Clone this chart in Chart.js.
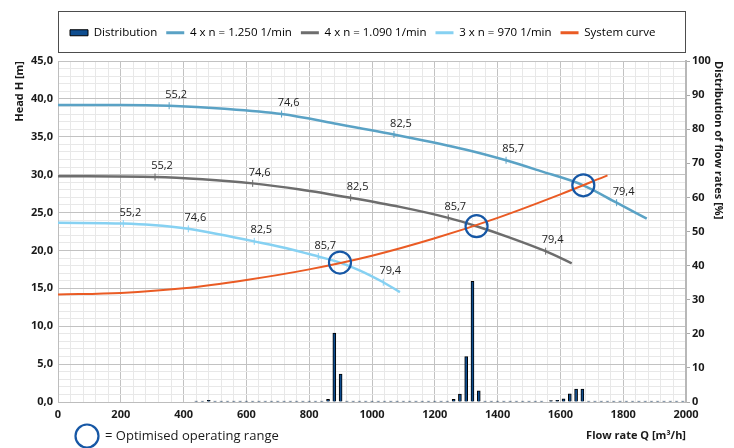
<!DOCTYPE html>
<html>
<head>
<meta charset="utf-8">
<title>Pump curves</title>
<script src="https://cdn.jsdelivr.net/npm/chart.js@4.4.1/dist/chart.umd.min.js"></script>
<style>
  html, body { margin: 0; padding: 0; background: #fff; }
  #wrap { width: 734px; height: 448px; }
</style>
</head>
<body>
<div id="wrap"><canvas id="pumpChart" width="734" height="448"></canvas></div>
<script>
// flow rate distribution (right axis, %)
var distFlow = [
    440, 460, 480, 500, 520, 540, 560, 580, 600, 620,
    640, 660, 680, 700, 720, 740, 760, 780, 800, 820,
    840, 860, 880, 900, 920, 940, 960, 980, 1000, 1020,
    1040, 1060, 1080, 1100, 1120, 1140, 1160, 1180, 1200, 1220,
    1240, 1260, 1280, 1300, 1320, 1340, 1360, 1380, 1400, 1420,
    1440, 1460, 1480, 1500, 1520, 1540, 1570, 1590, 1610, 1630,
    1650, 1670, 1690, 1710, 1730, 1750, 1770, 1790, 1810, 1830,
    1850, 1870, 1890, 1910, 1930, 1950, 1970, 1990
];
var distShare = [
    0.3, 0.3, 0.5, 0.3, 0.3, 0.3, 0.3, 0.3, 0.3, 0.3,
    0.3, 0.3, 0.3, 0.3, 0.3, 0.3, 0.3, 0.3, 0.3, 0.3,
    0.3, 0.8, 20.2, 8.2, 0.3, 0.3, 0.3, 0.3, 0.3, 0.3,
    0.3, 0.3, 0.3, 0.3, 0.3, 0.3, 0.3, 0.3, 0.3, 0.3,
    0.3, 0.8, 2.3, 13.3, 35.4, 3.3, 0.3, 0.3, 0.3, 0.3,
    0.3, 0.3, 0.3, 0.3, 0.3, 0.3, 0.4, 0.5, 0.9, 2.4,
    3.8, 3.8, 0.3, 0.3, 0.3, 0.3, 0.3, 0.3, 0.3, 0.3,
    0.3, 0.3, 0.3, 0.3, 0.3, 0.3, 0.3, 0.3
];

// pump curves (left axis, head in m)
var flow1250 = [0, 200, 354, 530, 712, 890, 1070, 1300, 1427, 1535, 1673, 1779, 1875];
var head1250 = [39.2, 39.2, 39.1, 38.7, 38.0, 36.7, 35.3, 33.3, 31.9, 30.5, 28.6, 26.3, 24.2];

var flow1090 = [0, 309, 460, 620, 771, 932, 1089, 1243, 1333, 1439, 1553, 1636];
var head1090 = [29.8, 29.7, 29.4, 28.85, 28.05, 26.95, 25.75, 24.3, 23.2, 21.7, 19.9, 18.3];

var flow970 = [0, 208, 300, 415, 516, 625, 728, 829, 898, 962, 1036, 1089];
var head970 = [23.65, 23.55, 23.35, 22.85, 22.1, 21.2, 20.3, 19.2, 18.4, 17.35, 15.8, 14.5];

var systemFlow = [0, 200, 400, 600, 800, 1000, 1200, 1400, 1600, 1750];
var systemHead = [14.2, 14.4, 15.0, 16.1, 17.5, 19.3, 21.6, 24.3, 27.4, 29.9];

// efficiency marks on the curves
var effLabels = ['55,2', '74,6', '82,5', '85,7', '79,4'];
var effFlow1250 = [354, 712, 1070, 1427, 1779];
var effHead1250 = [39.1, 38.0, 35.3, 31.9, 26.3];
var effFlow1090 = [309, 620, 932, 1243, 1553];
var effHead1090 = [29.7, 28.85, 26.95, 24.3, 19.9];
var effFlow970 = [208, 415, 625, 829, 1036];
var effHead970 = [23.55, 22.85, 21.2, 19.2, 15.8];

// optimised operating points
var opFlow = [898, 1333, 1673];
var opHead = [18.4, 23.2, 28.6];

var corBarra = '#0e4d8f';
var cor1250 = '#5aa2c5';
var cor1090 = '#6d6d6d';
var cor970 = '#86d1f2';
var corSistema = '#ea5b24';
var corCirculo = '#1657a5';

Chart.defaults.font.family = "'Open Sans', 'Noto Sans', sans-serif";
Chart.defaults.color = '#1a1a1a';

function pontos(xs, ys)
{
    return xs.map(function (x, i) { return { x: x, y: ys[i] }; });
}

function corGrade(ctx, passo)
{
    return ctx.tick && ctx.tick.value % passo === 0 ? '#c2c2c2' : '#e8e8e8';
}

var rotulosCurvas = {
    id: 'rotulosCurvas',
    afterDatasetsDraw: function (chart) {
        var ctx = chart.ctx;
        ctx.save();
        ctx.font = "11px 'Open Sans', sans-serif";
        ctx.fillStyle = '#222';
        ctx.textAlign = 'center';
        ctx.textBaseline = 'middle';
        chart.data.datasets.forEach(function (ds, i) {
            if (!ds.pointLabels) return;
            chart.getDatasetMeta(i).data.forEach(function (pt, j) {
                ctx.fillText(ds.pointLabels[j], pt.x + 7, pt.y - 11);
            });
        });
        ctx.restore();
    }
};

var caixaLegenda = {
    id: 'caixaLegenda',
    beforeInit: function (chart) {
        var fit = chart.legend.fit;
        chart.legend.fit = function () {
            fit.call(this);
            this.height = 61;
        };
    },
    afterLayout: function (chart) {
        chart.legend.left += 3;
        chart.legend.top += 18;
    },
    afterDraw: function (chart) {
        var ctx = chart.ctx;
        var area = chart.chartArea;
        ctx.save();
        ctx.strokeStyle = '#4d4d4d';
        ctx.lineWidth = 1;
        ctx.strokeRect(area.left + 0.5, 11.5, area.right - area.left - 1, 41);

        // note under the chart
        ctx.strokeStyle = corCirculo;
        ctx.lineWidth = 2.2;
        ctx.beginPath();
        ctx.arc(87, 436, 11.5, 0, Math.PI * 2);
        ctx.stroke();
        ctx.fillStyle = '#1a1a1a';
        ctx.font = "13px 'Open Sans', sans-serif";
        ctx.textAlign = 'left';
        ctx.textBaseline = 'middle';
        ctx.fillText('= Optimised operating range', 105, 436);
        ctx.restore();
    }
};

var data = {
    datasets: [
        {
            type: 'bar',
            label: 'Distribution',
            inLegend: true,
            yAxisID: 'y2',
            data: pontos(distFlow, distShare),
            backgroundColor: corBarra,
            borderColor: '#000',
            borderWidth: 1,
            barThickness: 3,
            order: 9
        },
        {
            type: 'line',
            label: '4 x n = 1.250 1/min',
            inLegend: true,
            data: pontos(flow1250, head1250),
            borderColor: cor1250,
            backgroundColor: cor1250,
            borderWidth: 2.5,
            pointRadius: 0,
            cubicInterpolationMode: 'monotone',
            order: 6
        },
        {
            type: 'line',
            label: '4 x n = 1.090 1/min',
            inLegend: true,
            data: pontos(flow1090, head1090),
            borderColor: cor1090,
            backgroundColor: cor1090,
            borderWidth: 2.5,
            pointRadius: 0,
            cubicInterpolationMode: 'monotone',
            order: 7
        },
        {
            type: 'line',
            label: '3 x n = 970 1/min',
            inLegend: true,
            data: pontos(flow970, head970),
            borderColor: cor970,
            backgroundColor: cor970,
            borderWidth: 2.5,
            pointRadius: 0,
            cubicInterpolationMode: 'monotone',
            order: 8
        },
        {
            type: 'line',
            label: 'System curve',
            inLegend: true,
            data: pontos(systemFlow, systemHead),
            borderColor: corSistema,
            backgroundColor: corSistema,
            borderWidth: 2,
            pointRadius: 0,
            cubicInterpolationMode: 'monotone',
            order: 5
        },
        {
            type: 'scatter',
            label: 'eff 1250',
            data: pontos(effFlow1250, effHead1250),
            pointLabels: effLabels,
            pointStyle: 'line',
            rotation: 90,
            pointRadius: 3.5,
            borderColor: cor1250,
            borderWidth: 1,
            order: 3
        },
        {
            type: 'scatter',
            label: 'eff 1090',
            data: pontos(effFlow1090, effHead1090),
            pointLabels: effLabels,
            pointStyle: 'line',
            rotation: 90,
            pointRadius: 3.5,
            borderColor: cor1090,
            borderWidth: 1,
            order: 3
        },
        {
            type: 'scatter',
            label: 'eff 970',
            data: pontos(effFlow970, effHead970),
            pointLabels: effLabels,
            pointStyle: 'line',
            rotation: 90,
            pointRadius: 3.5,
            borderColor: cor970,
            borderWidth: 1,
            order: 3
        },
        {
            type: 'scatter',
            label: 'Optimised operating range',
            data: pontos(opFlow, opHead),
            pointStyle: 'circle',
            pointRadius: 11,
            borderColor: corCirculo,
            backgroundColor: 'rgba(0,0,0,0)',
            borderWidth: 2.2,
            order: 0
        }
    ]
};

var ctxGrafico = document.getElementById('pumpChart');
var grafico = new Chart(ctxGrafico, {
    type: 'line',
    data: data,
    plugins: [caixaLegenda, rotulosCurvas],
    options: {
        responsive: false,
        animation: false,
        devicePixelRatio: 1,
        events: [],
        layout: { padding: 0 },
        plugins: {
            tooltip: { enabled: false },
            legend: {
                position: 'top',
                align: 'start',
                fullSize: false,
                labels: {
                    usePointStyle: true,
                    pointStyleWidth: 18,
                    boxHeight: 6,
                    padding: 9,
                    color: '#111',
                    font: { size: 11.5 },
                    generateLabels: function (chart) {
                        var itens = [];
                        chart.data.datasets.forEach(function (ds, i) {
                            if (!ds.inLegend) return;
                            var barra = ds.type === 'bar';
                            itens.push({
                                text: ds.label,
                                datasetIndex: i,
                                fillStyle: ds.backgroundColor,
                                strokeStyle: barra ? '#000' : ds.borderColor,
                                lineWidth: barra ? 1 : 3,
                                pointStyle: barra ? 'rect' : 'line',
                                hidden: false
                            });
                        });
                        return itens;
                    }
                }
            }
        },
        scales: {
            x: {
                type: 'linear',
                min: 0,
                max: 2000,
                offset: false,
                afterFit: function (scale) { scale.height = 46; },
                ticks: {
                    stepSize: 40,
                    autoSkip: false,
                    maxRotation: 0,
                    padding: 6,
                    font: { size: 11, weight: 'bold' },
                    callback: function (v) { return v % 200 === 0 ? String(v) : ''; }
                },
                grid: {
                    offset: false,
                    color: function (ctx) { return corGrade(ctx, 200); },
                    drawTicks: false
                },
                border: { color: '#bdbdbd' },
                title: {
                    display: true,
                    text: 'Flow rate Q [m³/h]',
                    align: 'end',
                    font: { size: 11, weight: 'bold' },
                    padding: { top: 6, bottom: 6 }
                }
            },
            y: {
                min: 0,
                max: 45,
                afterFit: function (scale) { scale.width = 58; },
                ticks: {
                    stepSize: 1,
                    autoSkip: false,
                    padding: 5,
                    font: { size: 11, weight: 'bold' },
                    callback: function (v) { return v % 5 === 0 ? v.toFixed(1).replace('.', ',') : ''; }
                },
                grid: {
                    color: function (ctx) { return corGrade(ctx, 5); },
                    drawTicks: false
                },
                border: { color: '#bdbdbd' },
                title: {
                    display: true,
                    text: 'Head H [m]',
                    align: 'end',
                    font: { size: 11, weight: 'bold' },
                    padding: { top: 13, bottom: 0 }
                }
            },
            y2: {
                position: 'right',
                min: 0,
                max: 100,
                afterFit: function (scale) { scale.width = 48; },
                ticks: {
                    stepSize: 10,
                    padding: 2,
                    font: { size: 11, weight: 'bold' }
                },
                grid: {
                    drawOnChartArea: false,
                    tickLength: 4,
                    color: '#aaaaaa'
                },
                border: { color: '#b8b8b8', width: 2 },
                title: {
                    display: true,
                    text: 'Distribution of flow rates [%]',
                    align: 'end',
                    font: { size: 11, weight: 'bold' },
                    padding: { top: 9, bottom: 0 }
                }
            }
        }
    }
});
</script>
</body>
</html>
